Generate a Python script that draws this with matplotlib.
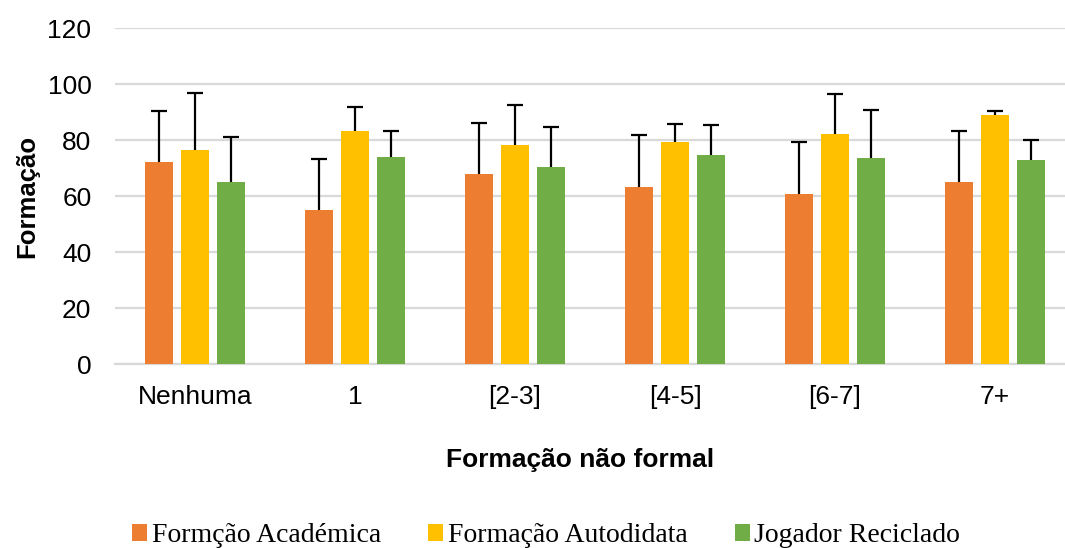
import numpy as np
import matplotlib.pyplot as plt

categories = ['Nenhuma', '1', '[2-3]', '[4-5]', '[6-7]', '7+']
series_names = ['Formção Académica', 'Formação Autodidata', 'Jogador Reciclado']

academica = [72.0, 55.0, 67.7, 63.2, 60.7, 65.0]
autodidata = [76.3, 83.3, 78.1, 79.2, 82.0, 89.0]
reciclado = [65.0, 73.9, 70.2, 74.5, 73.5, 72.9]

academica_err = [18.4, 18.3, 18.5, 18.5, 18.6, 18.3]
autodidata_err = [20.6, 8.4, 14.4, 6.6, 14.4, 1.5]
reciclado_err = [16.2, 9.4, 14.6, 10.9, 17.2, 7.1]

colors = ['#ED7D31', '#FFC000', '#70AD47']

fig = plt.figure(figsize=(10.65, 5.48), dpi=100)
ax = fig.add_axes([115 / 1065, 1 - 364 / 548, 960 / 1065, 336 / 548])

x = np.arange(len(categories))
width = 0.175
step = 0.223
values = [academica, autodidata, reciclado]
errors = [academica_err, autodidata_err, reciclado_err]

for i, (vals, errs) in enumerate(zip(values, errors)):
    ax.bar(x + (i - 1) * step, vals, width, color=colors[i], label=series_names[i],
           zorder=3)
    _, caps, _ = ax.errorbar(x + (i - 1) * step, vals,
                             yerr=[np.zeros(len(errs)), errs],
                             fmt='none', ecolor='black', elinewidth=1.6, capsize=6,
                             capthick=1.6, zorder=4)
    # only the upper cap, like Excel's "plus" error bars
    caps[0].set_visible(False)

ax.set_xlim(-0.5, len(categories) - 0.5)
ax.set_ylim(0, 120)
ax.set_yticks(range(0, 121, 20))
ax.set_xticks(x)
ax.set_xticklabels(categories)
ax.yaxis.grid(True, color='#D9D9D9', linewidth=1.6, zorder=0)
ax.set_axisbelow(True)
for s in ['top', 'right', 'left']:
    ax.spines[s].set_visible(False)
ax.spines['bottom'].set_color('#D9D9D9')
ax.spines['bottom'].set_linewidth(1.6)
ax.tick_params(axis='both', length=0, labelsize=19)
ax.tick_params(axis='y', pad=17)
ax.tick_params(axis='x', pad=15)
for lbl in ax.get_xticklabels() + ax.get_yticklabels():
    lbl.set_fontfamily('Liberation Sans')

ax.set_ylabel('Formação', fontsize=18.5, fontweight='bold', family='Liberation Sans')
ax.yaxis.set_label_coords((27 - 115) / 960, 0.5)
ax.set_xlabel('Formação não formal', fontsize=19, fontweight='bold',
              family='Liberation Sans')
ax.xaxis.set_label_coords((580 - 115) / 960, -(460 - 364) / 336)
ax.xaxis.label.set_va('center')
ax.yaxis.label.set_va('center')

handles, labels = ax.get_legend_handles_labels()
fig.legend(handles, labels, loc='center', bbox_to_anchor=(546 / 1065, 1 - 536 / 548),
           ncol=3, frameon=False, prop={'family': 'Liberation Serif', 'size': 20},
           handlelength=0.55, handleheight=0.55, handletextpad=0.15,
           columnspacing=1.7)

fig.savefig('out.png', dpi=100)
